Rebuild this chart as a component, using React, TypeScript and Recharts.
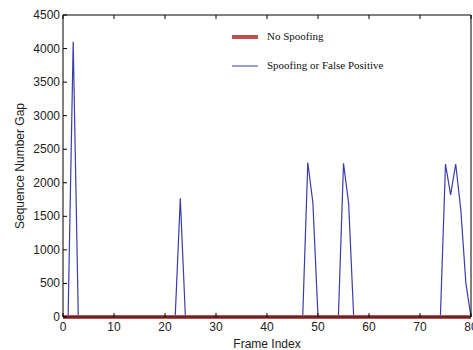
import { LineChart, Line, XAxis, YAxis } from "recharts";

// frame index 0..80
const frames = Array.from({ length: 81 }, (_, i) => i);

// spoofing / false positive gaps (frame -> gap)
const spoofPeaks: [number, number][] = [
  [2, 4100],
  [23, 1770],
  [48, 2300],
  [49, 1700],
  [55, 2290],
  [56, 1700],
  [75, 2280],
  [76, 1820],
  [77, 2280],
  [78, 1600],
  [79, 500],
];

const xTicks = [0, 10, 20, 30, 40, 50, 60, 70, 80];
const yTicks = [0, 500, 1000, 1500, 2000, 2500, 3000, 3500, 4000, 4500];

const RED = "#c0504d";
const BLUE = "#3c3caa";

const data = frames.map((f) => {
  const hit = spoofPeaks.find((p) => p[0] === f);
  return { frame: f, noSpoof: 0, spoof: hit ? hit[1] : 0 };
});

const tickFont = { fontFamily: "Liberation Sans, Arial, sans-serif", fontSize: 12, fill: "#222" };

function BottomTick(props: any) {
  const { x, y, payload } = props;
  return (
    <g>
      <line x1={x} y1={y} x2={x} y2={y - 4} stroke="#000" />
      <text x={x} y={y + 14} textAnchor="middle" {...tickFont}>
        {payload.value}
      </text>
    </g>
  );
}

function LeftTick(props: any) {
  const { x, y, payload } = props;
  return (
    <g>
      <line x1={x} y1={y} x2={x + 4} y2={y} stroke="#000" />
      <text x={x - 3} y={y + 4} textAnchor="end" {...tickFont}>
        {payload.value}
      </text>
    </g>
  );
}

function TopTick(props: any) {
  const { x, y } = props;
  return <line x1={x} y1={y} x2={x} y2={y + 4} stroke="#000" />;
}

function RightTick(props: any) {
  const { x, y } = props;
  return <line x1={x} y1={y} x2={x - 4} y2={y} stroke="#000" />;
}

function ChartLegend() {
  const font = { fontFamily: "Liberation Serif, Times New Roman, serif", fontSize: 11, fill: "#111" };
  return (
    <svg
      width={200}
      height={45}
      style={{ position: "absolute", left: 232, top: 32, overflow: "visible" }}
    >
      <line x1={0} y1={5} x2={26} y2={5} stroke={RED} strokeWidth={4} />
      <text x={35} y={8} {...font}>No Spoofing</text>
      <line x1={0} y1={34} x2={26} y2={34} stroke={BLUE} strokeWidth={1} />
      <text x={35} y={37} {...font}>Spoofing or False Positive</text>
    </svg>
  );
}

export default function App() {
  return (
    <div style={{ position: "absolute", left: 0, top: 0, width: 473, height: 350, background: "#fff" }}>
      <LineChart
        width={473}
        height={350}
        data={data}
        margin={{ top: 14, right: 0, left: 0, bottom: 0 }}
      >
        <XAxis
          dataKey="frame"
          type="number"
          domain={[0, 80]}
          ticks={xTicks}
          height={33}
          tickSize={0}
          tickMargin={0}
          tickLine={false}
          axisLine={{ stroke: "#000" }}
          tick={<BottomTick />}
          interval={0}
          label={{
            value: "Frame Index",
            position: "insideBottom",
            offset: 2,
            style: { ...tickFont, fill: "#222" },
          }}
        />
        <XAxis
          xAxisId="top"
          orientation="top"
          dataKey="frame"
          type="number"
          domain={[0, 80]}
          ticks={xTicks}
          height={1}
          tickSize={0}
          tickMargin={0}
          tickLine={false}
          axisLine={{ stroke: "#000" }}
          tick={<TopTick />}
          interval={0}
        />
        <YAxis
          type="number"
          domain={[0, 4500]}
          ticks={yTicks}
          width={63}
          tickSize={0}
          tickMargin={0}
          tickLine={false}
          axisLine={{ stroke: "#000" }}
          tick={<LeftTick />}
          interval={0}
          label={{
            value: "Sequence Number Gap",
            angle: -90,
            position: "insideLeft",
            offset: 20,
            style: { ...tickFont, fill: "#222", textAnchor: "middle" },
          }}
        />
        <YAxis
          yAxisId="right"
          orientation="right"
          type="number"
          domain={[0, 4500]}
          ticks={yTicks}
          width={2}
          tickSize={0}
          tickMargin={0}
          tickLine={false}
          axisLine={{ stroke: "#000" }}
          tick={<RightTick />}
          interval={0}
        />
        <Line
          type="linear"
          dataKey="spoof"
          stroke={BLUE}
          strokeWidth={1.2}
          dot={false}
          isAnimationActive={false}
        />
        <Line
          type="linear"
          dataKey="noSpoof"
          stroke={RED}
          strokeWidth={4}
          dot={false}
          isAnimationActive={false}
        />
      </LineChart>
      <ChartLegend />
    </div>
  );
}
